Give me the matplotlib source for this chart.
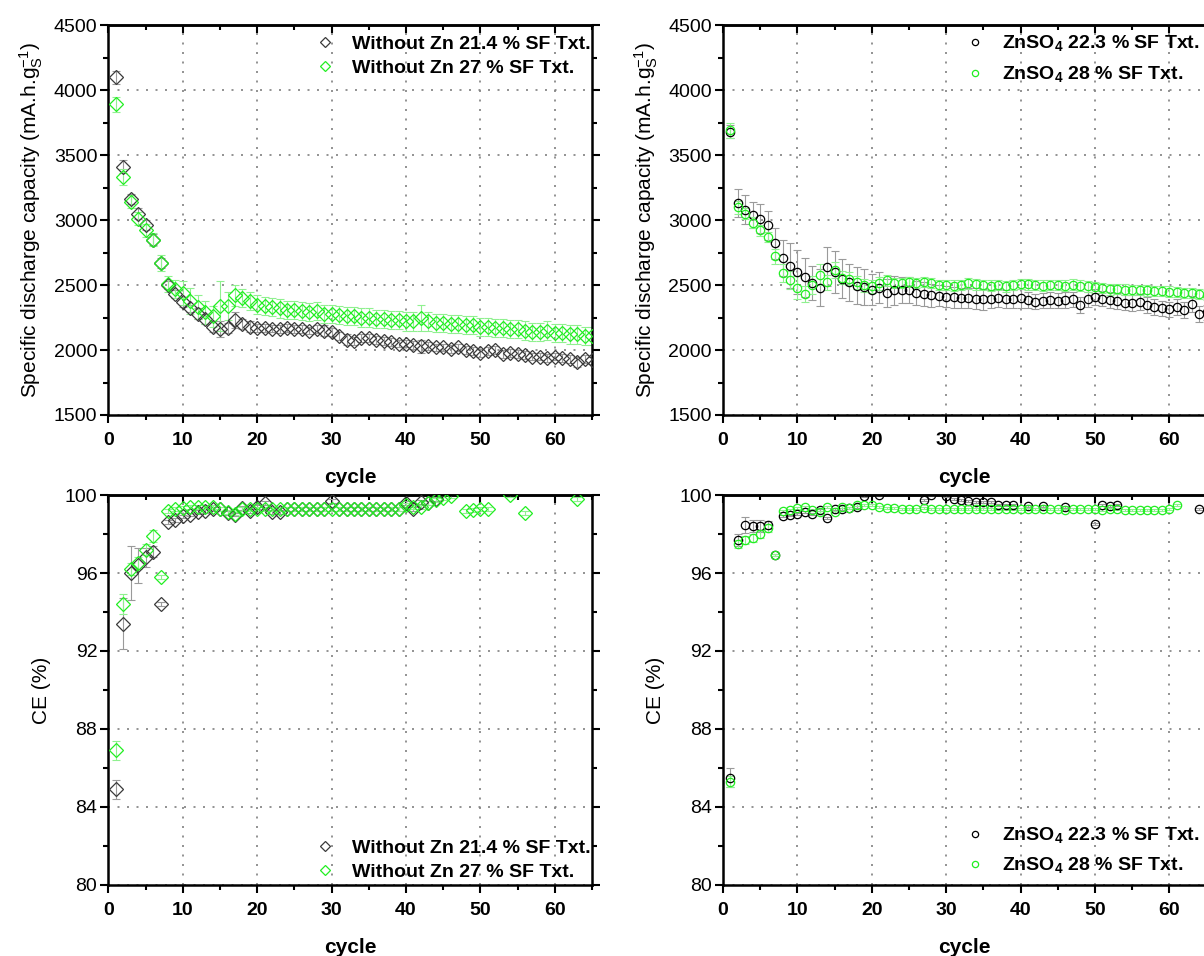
import numpy as np
import matplotlib
matplotlib.use('Agg')
import matplotlib.pyplot as plt
from matplotlib.ticker import MultipleLocator

plt.rcParams['font.family'] = ['Liberation Sans', 'DejaVu Sans']
plt.rcParams['mathtext.fontset'] = 'custom'
plt.rcParams['mathtext.rm'] = 'Liberation Sans'
plt.rcParams['mathtext.bf'] = 'Liberation Sans:bold'

nan = np.nan
cycles = np.arange(1, 66)

''' specific discharge capacity, without Zn '''
cap_wz21 = [4100, 3410, 3160, 3050, 2960, 2850, 2670, 2500, 2430, 2370,
            2320, 2280, 2240, 2180, 2160, 2170, 2230, 2200, 2180, 2170,
            2170, 2165, 2160, 2170, 2160, 2160, 2150, 2160, 2150, 2140,
            2110, 2080, 2070, 2090, 2090, 2080, 2070, 2060, 2050, 2050,
            2040, 2030, 2030, 2020, 2020, 2010, 2020, 2000, 1990, 1980,
            1990, 2000, 1970, 1980, 1970, 1960, 1950, 1950, 1940, 1950,
            1940, 1930, 1910, 1930, 1920]
err_cap_wz21 = [50, 50, 40, 40, 40, 40, 40, 30, 30, 40,
                30, 40, 40, 40, 60, 40, 60, 40, 40, 30,
                30, 30, 30, 30, 30, 30, 30, 30, 40, 30,
                30, 40, 30, 30, 30, 30, 30, 30, 30, 30,
                30, 50, 30, 30, 30, 30, 30, 30, 30, 30,
                30, 30, 30, 30, 30, 30, 30, 30, 30, 30,
                30, 30, 40, 30, 30]
cap_wz27 = [3890, 3330, 3140, 3010, 2920, 2850, 2670, 2510, 2470, 2440,
            2380, 2330, 2290, 2260, 2340, 2340, 2420, 2400, 2380, 2350,
            2340, 2330, 2320, 2310, 2310, 2300, 2290, 2300, 2280, 2280,
            2270, 2260, 2260, 2250, 2250, 2240, 2240, 2230, 2230, 2220,
            2220, 2250, 2220, 2210, 2210, 2200, 2200, 2190, 2190, 2180,
            2180, 2170, 2170, 2160, 2160, 2150, 2140, 2140, 2150, 2130,
            2130, 2120, 2120, 2110, 2110]
err_cap_wz27 = [60, 60, 50, 50, 50, 50, 60, 60, 70, 90,
                100, 90, 90, 80, 190, 110, 80, 70, 70, 70,
                70, 70, 70, 70, 70, 70, 70, 70, 70, 70,
                70, 70, 70, 70, 70, 70, 70, 70, 70, 70,
                70, 100, 70, 70, 70, 70, 70, 70, 70, 70,
                70, 70, 70, 70, 70, 70, 70, 70, 70, 70,
                70, 70, 70, 70, 70]

''' specific discharge capacity, ZnSO4 '''
cap_zn22 = [3680, 3130, 3080, 3040, 3010, 2960, 2820, 2710, 2650, 2600,
            2560, 2515, 2480, 2640, 2600, 2550, 2520, 2495, 2485, 2465,
            2480, 2440, 2460, 2460, 2465, 2440, 2430, 2420, 2418, 2410,
            2405, 2400, 2400, 2395, 2390, 2395, 2400, 2390, 2395, 2397,
            2385, 2372, 2380, 2385, 2380, 2385, 2390, 2346, 2390, 2410,
            2395, 2385, 2375, 2365, 2360, 2370, 2345, 2333, 2320, 2313,
            2330, 2308, 2354, 2277, 2290]
err_cap_zn22 = [50, 110, 110, 100, 110, 110, 120, 140, 170, 170,
                150, 130, 140, 150, 160, 150, 140, 140, 140, 120,
                120, 110, 110, 100, 100, 90, 90, 90, 80, 80,
                80, 80, 80, 80, 80, 70, 70, 70, 70, 70,
                60, 60, 60, 60, 60, 60, 60, 60, 60, 60,
                60, 60, 60, 60, 60, 60, 60, 60, 60, 60,
                60, 60, 60, 60, 60]
cap_zn28 = [3690, 3100, 3050, 2980, 2920, 2870, 2720, 2590, 2540, 2480,
            2430, 2500, 2580, 2520, 2615, 2555, 2550, 2520, 2500, 2490,
            2515, 2535, 2515, 2515, 2525, 2515, 2525, 2515, 2500, 2500,
            2495, 2500, 2513, 2505, 2500, 2495, 2500, 2490, 2500, 2508,
            2505, 2500, 2495, 2500, 2500, 2495, 2503, 2495, 2490, 2482,
            2475, 2467, 2470, 2465, 2462, 2460, 2458, 2456, 2455, 2450,
            2445, 2440, 2440, 2430, 2425]
err_cap_zn28 = [60, 50, 40, 40, 40, 40, 60, 70, 70, 90,
                60, 70, 80, 60, 60, 50, 50, 50, 50, 50,
                50, 40, 40, 40, 40, 40, 40, 40, 40, 40,
                40, 40, 40, 40, 40, 40, 40, 40, 40, 40,
                40, 40, 40, 40, 40, 40, 40, 40, 40, 40,
                40, 40, 40, 40, 40, 40, 40, 40, 40, 40,
                40, 40, 40, 40, 40]

''' coulombic efficiency, without Zn '''
ce_wz21 = [84.9, 93.4, 96.0, 96.4, 96.8, 97.1, 94.4, 98.6, 98.7, 98.9,
           99.0, 99.15, 99.2, 99.3, 99.3, 99.1, 99.0, 99.35, 99.2, 99.4,
           99.6, 99.15, 99.15, 99.3, 99.3, 99.3, 99.3, 99.3, 99.3, 99.7,
           99.3, 99.3, 99.3, 99.3, 99.3, 99.3, 99.3, 99.3, 99.3, 99.57,
           99.3, 99.66, 99.6, 99.8, nan, nan, nan, nan, nan, nan,
           nan, nan, nan, nan, nan, nan, nan, nan, nan, nan,
           nan, nan, nan, nan, nan]
err_ce_wz21 = [0.5, 1.3, 1.4, 0.9, 0.5, 0.3] + [0.1] * 59
ce_wz27 = [86.9, 94.4, 96.2, 96.5, 97.2, 97.9, 95.8, 99.2, 99.3, 99.35,
           99.4, 99.4, 99.4, 99.4, 99.3, 99.15, 99.05, 99.3, 99.3, 99.3,
           99.3, 99.3, 99.3, 99.3, 99.3, 99.3, 99.3, 99.3, 99.3, 99.3,
           99.3, 99.3, 99.3, 99.3, 99.3, 99.3, 99.3, 99.3, 99.3, 99.5,
           99.4, 99.4, 99.6, 99.74, 99.86, 99.97, nan, 99.18, 99.23, 99.26,
           99.3, nan, nan, 100.0, nan, 99.06, nan, nan, nan, nan,
           nan, nan, 99.8, nan, nan]
err_ce_wz27 = [0.5, 0.5, 0.3, 0.3, 0.3, 0.3] + [0.1] * 59

''' coulombic efficiency, ZnSO4 '''
ce_zn22 = [85.5, 97.7, 98.45, 98.4, 98.4, 98.45, 96.9, 98.9, 98.95, 99.05,
           99.15, 99.05, 99.25, 98.8, 99.3, 99.3, 99.35, 99.4, 99.95, nan,
           100.0, nan, nan, nan, nan, nan, 99.74, 100.0, nan, 99.97,
           99.8, 99.74, 99.7, 99.66, 99.66, 99.63, 99.5, 99.5, 99.5, nan,
           99.45, nan, 99.45, nan, nan, 99.4, nan, nan, nan, 98.5,
           99.5, 99.45, 99.5, nan, nan, nan, nan, nan, nan, nan,
           nan, nan, nan, 99.3, nan]
err_ce_zn22 = [0.5, 0.3, 0.4, 0.3, 0.3, 0.2] + [0.05] * 59
ce_zn28 = [85.3, 97.5, 97.7, 97.8, 98.0, 98.3, 96.9, 99.2, 99.25, 99.35,
           99.4, 99.25, 99.15, 99.4, 99.15, 99.4, 99.35, 99.5, 99.5, 99.5,
           99.4, 99.35, 99.35, 99.3, 99.3, 99.3, 99.35, 99.3, 99.3, 99.3,
           99.3, 99.3, 99.3, 99.3, 99.3, 99.3, 99.3, 99.3, 99.3, 99.3,
           99.3, 99.3, 99.3, 99.3, 99.3, 99.25, 99.3, 99.3, 99.3, 99.3,
           99.25, 99.3, 99.3, 99.25, 99.25, 99.25, 99.25, 99.25, 99.25, 99.3,
           99.5, nan, nan, nan, nan]
err_ce_zn28 = [0.3, 0.2, 0.2, 0.2, 0.2, 0.2] + [0.05] * 59

lab_wz21 = 'Without Zn 21.4 % SF Txt.'
lab_wz27 = 'Without Zn 27 % SF Txt.'
lab_zn22 = r'ZnSO$_\mathbf{4}$ 22.3 % SF Txt.'
lab_zn28 = r'ZnSO$_\mathbf{4}$ 28 % SF Txt.'

dark = '#3a3a3a'
green = '#22ee22'
dark_err = '#9a9a9a'
green_err = '#90f090'


def series(ax, y, e, mk, ms, col, ecol, lab):
    ax.errorbar(cycles, y, yerr=e, fmt='none', ecolor=ecol, elinewidth=0.8,
                capsize=3, capthick=0.8, zorder=2)
    ax.plot(cycles, y, linestyle='none', marker=mk, ms=ms, mfc='none',
            mec=col, mew=0.9, label=lab, zorder=3)


def style(ax, ymin, ymax, ymaj, ymin_tick, ylab, ylpad):
    ax.set_xlim(0, 65)
    ax.set_ylim(ymin, ymax)
    ax.xaxis.set_major_locator(MultipleLocator(10))
    ax.xaxis.set_minor_locator(MultipleLocator(5))
    ax.yaxis.set_major_locator(MultipleLocator(ymaj))
    ax.yaxis.set_minor_locator(MultipleLocator(ymin_tick))
    ax.tick_params(axis='x', which='both', direction='out', bottom=True,
                   top=False, labelsize=14, width=1.5, pad=6)
    ax.tick_params(axis='y', which='both', direction='out', left=True,
                   right=True, labelsize=14, width=1.5, pad=2)
    ax.tick_params(which='major', length=6)
    ax.tick_params(which='minor', length=3.5)
    for t in ax.get_xticklabels():
        t.set_fontweight('bold')
    top = ax.secondary_xaxis('top')
    top.xaxis.set_major_locator(MultipleLocator(10))
    top.xaxis.set_minor_locator(MultipleLocator(5))
    top.tick_params(which='both', direction='in', labeltop=False, width=1.5)
    top.tick_params(which='major', length=6)
    top.tick_params(which='minor', length=3.5)
    top.spines['top'].set_linewidth(1.8)
    for s in ax.spines.values():
        s.set_linewidth(1.8)
    ax.grid(True, which='major', color='#808080', linestyle=(0, (1.2, 4.5)),
            linewidth=1.2)
    ax.set_xlabel('cycle', fontsize=15, fontweight='bold', labelpad=14)
    ax.set_ylabel(ylab, fontsize=15, labelpad=ylpad)


def legend(ax, x_px, top_px, spacing):
    ax.legend(loc='upper left', bbox_to_anchor=(x_px / 1204, 1 - top_px / 956),
              bbox_transform=fig.transFigure, frameon=False, markerscale=0.75,
              handlelength=1.0, handletextpad=0.9, labelspacing=spacing,
              borderpad=0, borderaxespad=0,
              prop={'weight': 'bold', 'size': 14})


fig = plt.figure(figsize=(12.04, 9.56), dpi=100)
ax1 = fig.add_axes([0.0901, 0.5659, 0.4016, 0.4079])
ax2 = fig.add_axes([0.6005, 0.5659, 0.4016, 0.4079])
ax3 = fig.add_axes([0.0901, 0.0743, 0.4016, 0.4079])
ax4 = fig.add_axes([0.6005, 0.0743, 0.4016, 0.4079])

caplab = r'Specific discharge capacity (mA.h.g$\mathregular{_S^{-1}}$)'

series(ax1, cap_wz21, err_cap_wz21, 'D', 7, dark, dark_err, lab_wz21)
series(ax1, cap_wz27, err_cap_wz27, 'D', 7, green, green_err, lab_wz27)
style(ax1, 1500, 4500, 500, 250, caplab, 6)

series(ax2, cap_zn22, err_cap_zn22, 'o', 6, 'black', dark_err, lab_zn22)
series(ax2, cap_zn28, err_cap_zn28, 'o', 6, green, green_err, lab_zn28)
style(ax2, 1500, 4500, 500, 250, caplab, 6)

series(ax3, ce_wz21, err_ce_wz21, 'D', 7, dark, dark_err, lab_wz21)
series(ax3, ce_wz27, err_ce_wz27, 'D', 7, green, green_err, lab_wz27)
style(ax3, 80, 100, 4, 2, 'CE (%)', 10)

series(ax4, ce_zn22, err_ce_zn22, 'o', 6, 'black', dark_err, lab_zn22)
series(ax4, ce_zn28, err_ce_zn28, 'o', 6, green, green_err, lab_zn28)
style(ax4, 80, 100, 4, 2, 'CE (%)', 10)

legend(ax1, 315, 35, 0.35)
legend(ax3, 315, 839, 0.35)
legend(ax2, 965, 34, 0.55)
legend(ax4, 965, 826, 0.5)

fig.savefig('out.png', dpi=100)
